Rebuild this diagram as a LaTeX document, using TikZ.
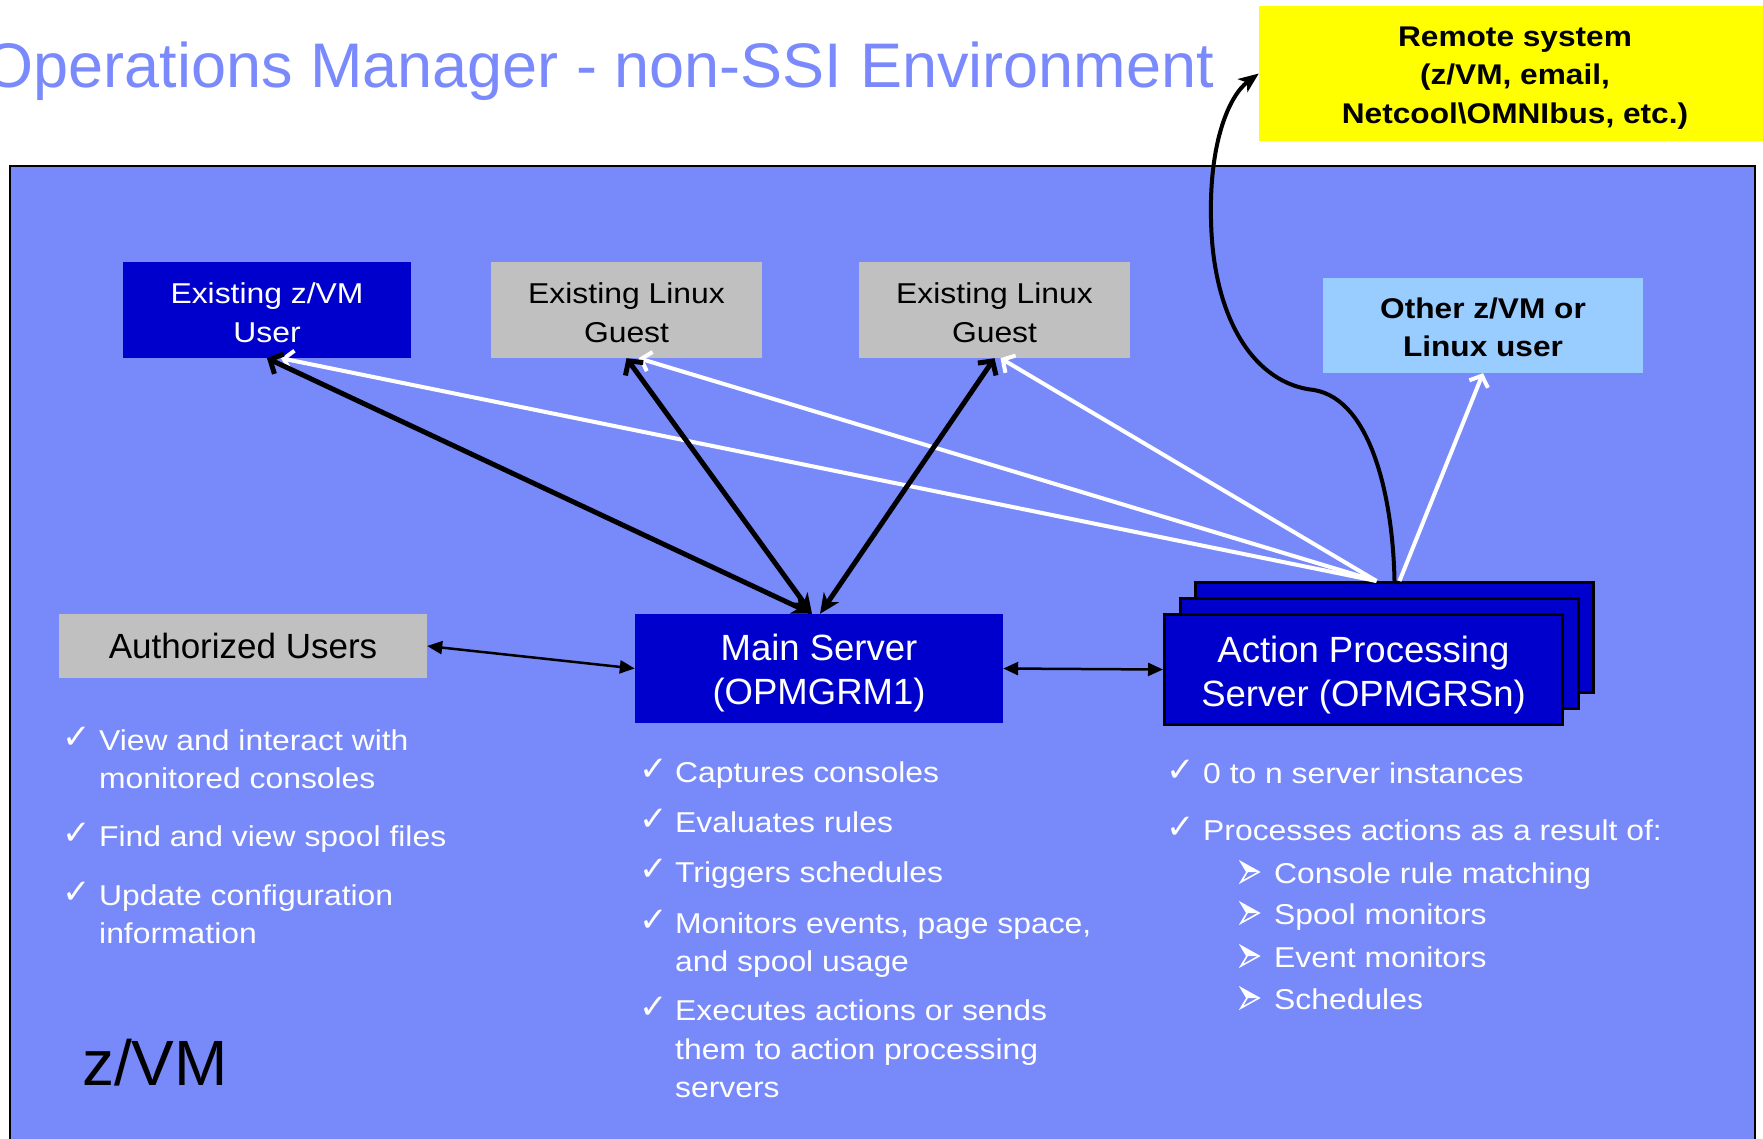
\documentclass[tikz,border=0pt]{standalone}
\usepackage{fontspec}
\setmainfont{Liberation Sans}
\newfontfamily\widefont{Liberation Sans}[FakeStretch=1.11]
\newfontfamily\symfont{DejaVu Sans}
\usetikzlibrary{arrows.meta}
\definecolor{panel}{RGB}{120,138,250}
\definecolor{titleblue}{RGB}{122,138,252}
\definecolor{darkblue}{RGB}{0,0,204}
\definecolor{greybox}{RGB}{192,192,192}
\definecolor{lightblue}{RGB}{153,204,255}
\definecolor{remoteyellow}{RGB}{255,255,0}
\tikzset{
  box/.style={inner sep=0pt},
  boxtext/.style={inner sep=0pt, align=center},
  smalltxt/.style={font=\widefont\fontsize{28.7}{39}\selectfont},
  boldtxt/.style={font=\widefont\bfseries\fontsize{28.5}{38.5}\selectfont},
  bigtxt/.style={font=\fontsize{36.5}{44}\selectfont},
  listline/.style={anchor=base west, inner sep=0pt, text=white, font=\widefont\fontsize{28.7}{34}\selectfont},
  chk/.style={anchor=base west, inner sep=0pt, text=white, font=\symfont\fontsize{34}{34}\selectfont},
  apsbox/.style={box, draw=black, line width=3pt, fill=darkblue, minimum width=398pt, minimum height=110pt},
  thickblk/.style={draw=black, line width=5pt},
  thickwht/.style={draw=white, line width=4pt},
  thinblk/.style={draw=black, line width=2.5pt, {Triangle[length=15pt,width=13pt]}-{Triangle[length=15pt,width=13pt]}},
  arrbullet/.pic={
    \fill[white] (0,-21) -- (18,-11) -- (6,-11) -- cycle;
    \draw[white, line width=1.6pt, line join=miter] (0,-21) -- (18,-11) -- (0,-1) -- (6,-11) -- cycle;
  }
}
\begin{document}
\begin{tikzpicture}[x=1pt,y=-1pt]
\useasboundingbox (0,0) rectangle (1763,1138);
\fill[white] (0,0) rectangle (1763,1138);

% title
\node[anchor=base east, inner sep=0pt, text=titleblue, font=\fontsize{63}{63}\selectfont] (title) at (1214,87) {Operations Manager - non-SSI Environment};

% z/VM panel
\draw[line width=2.5pt, fill=panel] (10,166) rectangle (1755,1170);

% remote system
\node[box, fill=remoteyellow, minimum width=512pt, minimum height=135pt] (remote) at (1515,73.5) {};
\node[boxtext, boldtxt] (remoteT) at ([yshift=-4.5pt]remote.center) {Remote system\\(z/VM, email,\\Netcool\textbackslash OMNIbus, etc.)};

% top row
\node[box, fill=darkblue, minimum width=288pt, minimum height=96pt] (zu) at (267,310) {};
\node[boxtext, smalltxt, text=white] (zuT) at ([yshift=-2.5pt]zu.center) {Existing z/VM\\User};
\node[box, fill=greybox, minimum width=271pt, minimum height=96pt] (lg1) at (626.5,310) {};
\node[boxtext, smalltxt] (lg1T) at ([yshift=-2.5pt]lg1.center) {Existing Linux\\Guest};
\node[box, fill=greybox, minimum width=271pt, minimum height=96pt] (lg2) at (994.5,310) {};
\node[boxtext, smalltxt] (lg2T) at ([yshift=-2.5pt]lg2.center) {Existing Linux\\Guest};
\node[box, fill=lightblue, minimum width=320pt, minimum height=95pt] (ou) at (1483,325.5) {};
\node[boxtext, boldtxt] (ouT) at ([yshift=-2pt]ou.center) {Other z/VM or\\Linux user};

% middle row
\node[box, fill=greybox, minimum width=368pt, minimum height=64pt, font=\fontsize{35}{40}\selectfont] (au) at (243,646) {Authorized Users};
\node[box, fill=darkblue, minimum width=368pt, minimum height=109pt] (ms) at (819,668.5) {};
\node[boxtext, bigtxt, text=white] (msT) at ([yshift=-4.5pt]ms.center) {Main Server\\(OPMGRM1)};
\node[apsbox] (apsB) at (1394.5,637.5) {};
\node[apsbox] (apsM) at (1379,653.5) {};
\node[apsbox] (apsF) at (1363.5,669.5) {};
\node[boxtext, bigtxt, text=white] (apsT) at ([yshift=-5.5pt]apsF.center) {Action Processing\\Server (OPMGRSn)};

% white arrows from action processing server
\draw[thickwht, -{Straight Barb[length=9pt,width=20pt]}] ([xshift=-18pt]apsB.north) -- ([xshift=14pt]zu.south);
\draw[thickwht, -{Straight Barb[length=9pt,width=20pt]}] ([xshift=-18pt]apsB.north) -- ([xshift=12pt]lg1.south);
\draw[thickwht, -{Straight Barb[length=9pt,width=20pt]}] ([xshift=-18pt]apsB.north) -- ([xshift=6pt]lg2.south);
\draw[thickwht, -{Straight Barb[length=9pt,width=20pt]}] ([xshift=5pt]apsB.north) -- (ou.south);

% black thick arrows main server <-> top nodes
\draw[thickblk, {Stealth[length=20pt,width=18pt,inset=6pt]}-{Straight Barb[length=10pt,width=22pt]}] ([xshift=-7pt]ms.north) -- (zu.south);
\draw[thickblk, {Stealth[length=20pt,width=18pt,inset=6pt]}-{Straight Barb[length=10pt,width=22pt]}] ([xshift=-7pt]ms.north) -- (lg1.south);
\draw[thickblk, {Stealth[length=20pt,width=18pt,inset=6pt]}-{Straight Barb[length=10pt,width=22pt]}] ([xshift=1pt]ms.north) -- (lg2.south);

% thin arrows
\draw[thinblk] (au.east) -- (ms.west);
\draw[thinblk] (ms.east) -- (apsF.west);

% curve to remote system
\draw[line width=4pt, -{Stealth[length=20pt,width=16pt,inset=5pt]}] (apsB.north) .. controls (1393,500) and (1372,400) .. (1314,390) .. controls (1255,384) and (1213,320) .. (1211,220) .. controls (1209,140) and (1230,95) .. (remote.west);

% left list
\node[chk] (lc1) at (62,748) {✓};
\node[listline] (l1a) at (99,750) {View and interact with};
\node[listline] (l1b) at (99,788) {monitored consoles};
\node[chk] (lc2) at (62,844) {✓};
\node[listline] (l2a) at (99,846) {Find and view spool files};
\node[chk] (lc3) at (62,903) {✓};
\node[listline] (l3a) at (99,905) {Update configuration};
\node[listline] (l3b) at (99,943) {information};

% middle list
\node[chk] (mc1) at (639,780) {✓};
\node[listline] (m1a) at (675,782) {Captures consoles};
\node[chk] (mc2) at (639,830) {✓};
\node[listline] (m2a) at (675,832) {Evaluates rules};
\node[chk] (mc3) at (639,880) {✓};
\node[listline] (m3a) at (675,882) {Triggers schedules};
\node[chk] (mc4) at (639,931) {✓};
\node[listline] (m4a) at (675,933) {Monitors events, page space,};
\node[listline] (m4b) at (675,971) {and spool usage};
\node[chk] (mc5) at (639,1018) {✓};
\node[listline] (m5a) at (675,1020) {Executes actions or sends};
\node[listline] (m5b) at (675,1059) {them to action processing};
\node[listline] (m5c) at (675,1097) {servers};

% right list
\node[chk] (rc1) at (1166,781) {✓};
\node[listline] (r1a) at (1203,783) {0 to n server instances};
\node[chk] (rc2) at (1166,838) {✓};
\node[listline] (r2a) at (1203,840) {Processes actions as a result of:};
\pic at (1241,883) {arrbullet};
\node[listline] (r3a) at (1274,883) {Console rule matching};
\pic at (1241,924) {arrbullet};
\node[listline] (r3b) at (1274,924) {Spool monitors};
\pic at (1241,967) {arrbullet};
\node[listline] (r3c) at (1274,967) {Event monitors};
\pic at (1241,1009) {arrbullet};
\node[listline] (r3d) at (1274,1009) {Schedules};

% z/VM label
\node[anchor=base west, inner sep=0pt, font=\fontsize{64}{64}\selectfont] (zvm) at (82,1085) {z/VM};
\end{tikzpicture}
\end{document}
